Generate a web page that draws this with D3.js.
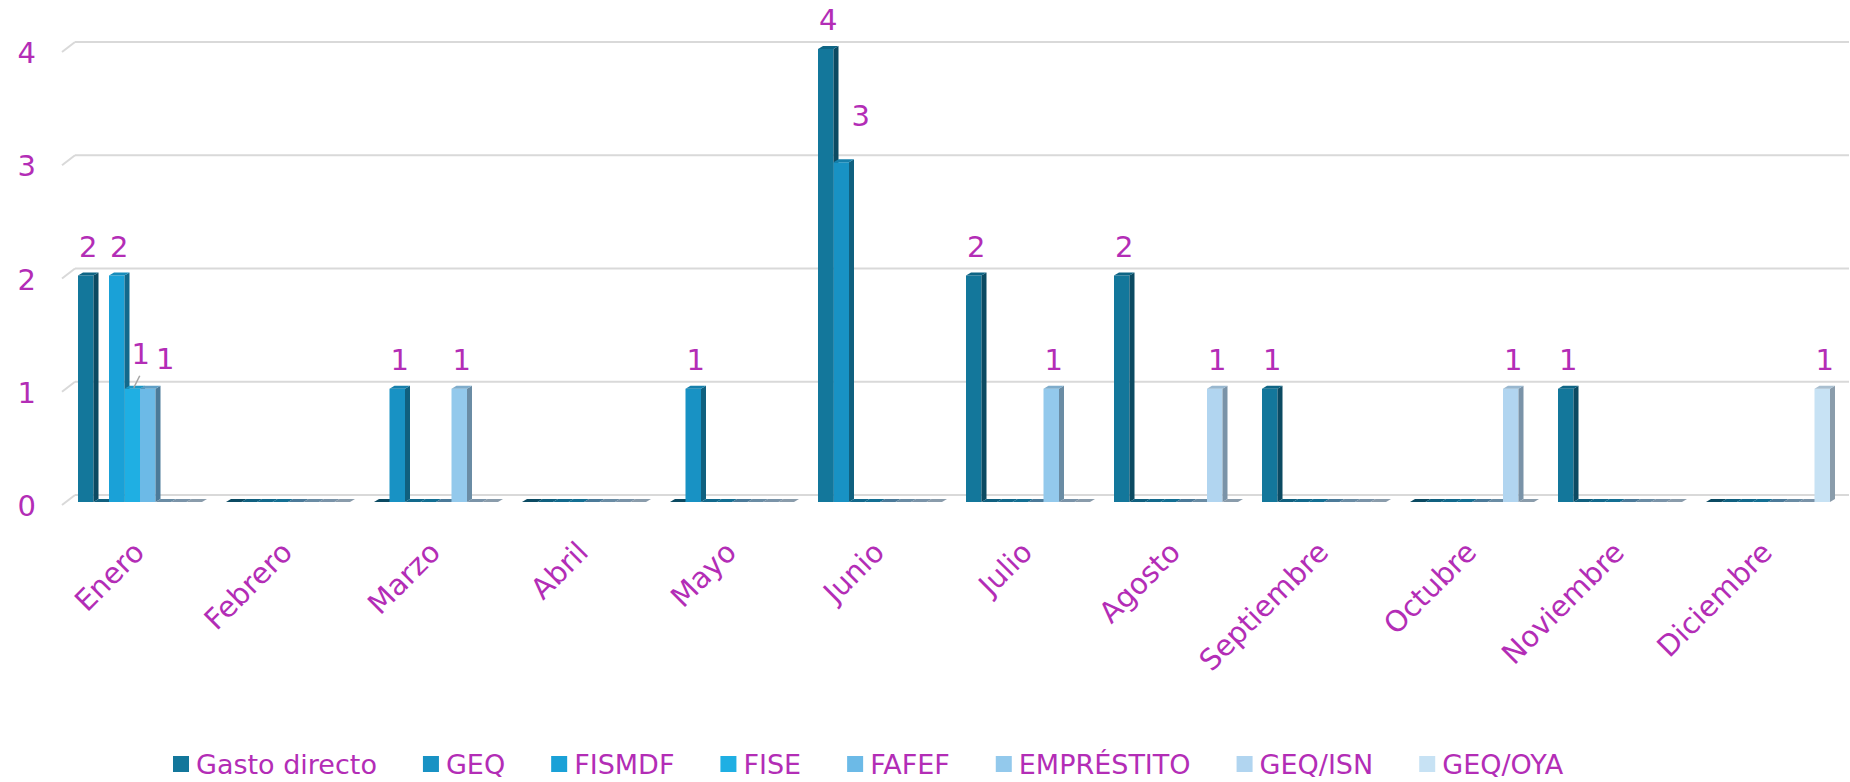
<!DOCTYPE html>
<html>
<head>
<meta charset="utf-8">
<script src="https://cdn.jsdelivr.net/npm/d3@7"></script>
<style>
  html, body { margin: 0; padding: 0; background: #ffffff; }
  svg { display: block; }
  text { font-family: "DejaVu Sans", sans-serif; fill: #b32db6; }
</style>
</head>
<body>
<svg id="chart" width="1850" height="782"></svg>
<script>
// ---------------- data ----------------
const months = ["Enero","Febrero","Marzo","Abril","Mayo","Junio","Julio","Agosto","Septiembre","Octubre","Noviembre","Diciembre"];
const seriesNames = ["Gasto directo","GEQ","FISMDF","FISE","FAFEF","EMPRÉSTITO","GEQ/ISN","GEQ/OYA"];
const gastoDirecto = [2,0,0,0,0,4,2,2,1,0,1,0];
const geq          = [0,0,1,0,1,3,0,0,0,0,0,0];
const fismdf       = [2,0,0,0,0,0,0,0,0,0,0,0];
const fise         = [1,0,0,0,0,0,0,0,0,0,0,0];
const fafef        = [1,0,0,0,0,0,0,0,0,0,0,0];
const emprestito   = [0,0,1,0,0,0,1,0,0,0,0,0];
const geqIsn       = [0,0,0,0,0,0,0,1,0,1,0,0];
const geqOya       = [0,0,0,0,0,0,0,0,0,0,0,1];
const yTicks = [0,1,2,3,4];

// ---------------- styles ----------------
const frontColors = ["#13779b","#1892c4","#1aa1d7","#1fafe3","#6cbae7","#93c9ec","#b1d5f0","#c7e2f4"];
const sideColors  = ["#0b4a62","#10607f","#12698c","#136f93","#4b7a99","#6a8ca4","#7a93a8","#8a9cab"];
const topColors   = ["#0e6585","#157fab","#168cbb","#1a98c6","#5e9fc6","#7eaccb","#98b7cf","#a9bfd0"];

const allSeries = [gastoDirecto, geq, fismdf, fise, fafef, emprestito, geqIsn, geqOya];

const svg = d3.select("#chart");

// ---------------- scales ----------------
const wallX0 = 75, wallX1 = 1849;
const y = d3.scaleLinear().domain([0, 4]).range([495, 42]);
const floorDX = -13, floorDY = 10;   // back wall -> front floor edge
const barDY = 7;                      // bar front plane relative to back wall
const depthDX = 5, depthDY = -3;      // bar depth

const step = 148;
const x = d3.scaleBand().domain(months)
  .range([66, 66 + 12 * step])
  .paddingInner(24 / step)
  .paddingOuter(12 / step);
const xs = d3.scaleBand().domain(seriesNames).range([0, x.bandwidth()]);

// ---------------- gridlines ----------------
const grid = svg.append("g");
yTicks.forEach(t => {
  const yy = y(t);
  grid.append("line").attr("x1", wallX0).attr("x2", wallX1).attr("y1", yy).attr("y2", yy)
    .attr("stroke", "#d9d9d9").attr("stroke-width", 2);
  grid.append("line").attr("x1", wallX0 + floorDX).attr("y1", yy + floorDY)
    .attr("x2", wallX0).attr("y2", yy)
    .attr("stroke", "#d9d9d9").attr("stroke-width", 2);
});

// y tick labels
svg.append("g").selectAll("text").data(yTicks).join("text")
  .attr("x", 36).attr("y", d => y(d) + floorDY + 3)
  .attr("text-anchor", "end").attr("dominant-baseline", "middle")
  .style("font-size", "29px")
  .text(d => d);

// ---------------- bars ----------------
const yF = v => y(v) + barDY;
const bw = xs.bandwidth();
const barsG = svg.append("g");
months.forEach((m, mi) => {
  seriesNames.forEach((s, si) => {
    const v = allSeries[si][mi];
    const x0 = x(m) + xs(s);
    const yt = yF(v), yb = yF(0);
    const g = barsG.append("g");
    if (v > 0) {
      g.append("rect").attr("x", x0).attr("y", yt).attr("width", bw).attr("height", yb - yt)
        .attr("fill", frontColors[si]);
      g.append("polygon").attr("points", [
        [x0 + bw, yt], [x0 + bw + depthDX, yt + depthDY], [x0 + bw + depthDX, yb + depthDY], [x0 + bw, yb]
      ].map(p => p.join(",")).join(" ")).attr("fill", sideColors[si]);
      g.append("polygon").attr("points", [
        [x0, yt], [x0 + depthDX, yt + depthDY], [x0 + bw + depthDX, yt + depthDY], [x0 + bw, yt]
      ].map(p => p.join(",")).join(" ")).attr("fill", topColors[si]);
    } else {
      g.append("polygon").attr("points", [
        [x0, yb], [x0 + depthDX, yb + depthDY], [x0 + bw + depthDX, yb + depthDY], [x0 + bw, yb]
      ].map(p => p.join(",")).join(" ")).attr("fill", sideColors[si]);
    }
  });
});

// ---------------- data labels ----------------
const labelNudge = {
  "Enero|FISE": [6, -6, true],
  "Enero|FAFEF": [15, -1, false],
  "Junio|GEQ": [17, -17, false]
};
const labelsG = svg.append("g");
months.forEach((m, mi) => {
  seriesNames.forEach((s, si) => {
    const v = allSeries[si][mi];
    if (v <= 0) return;
    const cx = x(m) + xs(s) + (bw + depthDX) / 2;
    const base = yF(v) - 19;
    const n = labelNudge[m + "|" + s] || [0, 0, false];
    if (n[2]) {
      labelsG.append("line")
        .attr("x1", cx - 1).attr("y1", yF(v) - 1)
        .attr("x2", cx + n[0] - 1).attr("y2", base + n[1] + 12)
        .attr("stroke", "#a6a6a6").attr("stroke-width", 1.5);
    }
    labelsG.append("text")
      .attr("x", cx + n[0]).attr("y", base + n[1])
      .attr("text-anchor", "middle")
      .style("font-size", "29px")
      .text(v);
  });
});

// ---------------- category labels ----------------
svg.append("g").selectAll("text").data(months).join("text")
  .attr("transform", d => `translate(${x(d) + x.bandwidth() / 2 + 6},${554}) rotate(-45)`)
  .attr("text-anchor", "end")
  .style("font-size", "29px")
  .text(d => d);

// ---------------- legend ----------------
const legend = svg.append("g");
let lx = 173;
const ly = 764;
seriesNames.forEach((s, si) => {
  legend.append("rect").attr("x", lx).attr("y", ly - 8).attr("width", 16).attr("height", 16)
    .attr("fill", frontColors[si]);
  const t = legend.append("text").attr("x", lx + 23).attr("y", ly + 10)
    .style("font-size", "27px").text(s);
  const w = t.node().getComputedTextLength();
  lx += 23 + w + 46;
});
</script>
</body>
</html>
